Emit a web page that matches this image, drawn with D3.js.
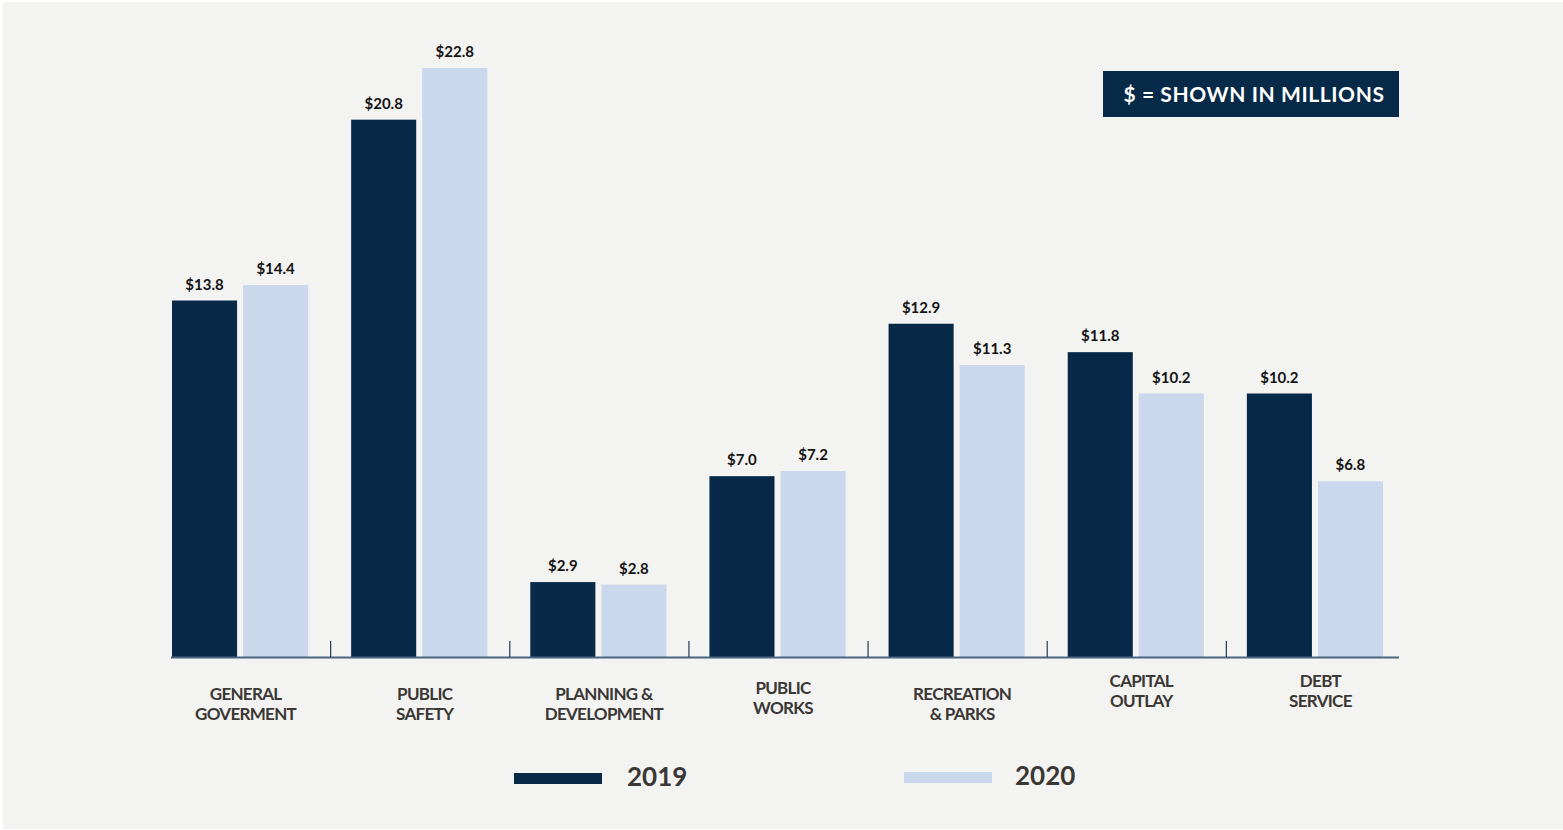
<!DOCTYPE html>
<html>
<head>
<meta charset="utf-8">
<script src="https://cdn.jsdelivr.net/npm/d3@7"></script>
<style>
  html, body { margin: 0; padding: 0; background: #ffffff; }
  svg { display: block; }
  text { font-family: "Lato", "Open Sans", sans-serif; }
</style>
</head>
<body>
<svg id="chart" width="1563" height="830"></svg>
<script>
// Expenditures by function, in millions of dollars
const categories = [
  ["GENERAL", "GOVERMENT"],
  ["PUBLIC", "SAFETY"],
  ["PLANNING &", "DEVELOPMENT"],
  ["PUBLIC", "WORKS"],
  ["RECREATION", "& PARKS"],
  ["CAPITAL", "OUTLAY"],
  ["DEBT", "SERVICE"]
];
const years = ["2019", "2020"];
const values2019 = [13.8, 20.8, 2.9, 7.0, 12.9, 11.8, 10.2];
const values2020 = [14.4, 22.8, 2.8, 7.2, 11.3, 10.2, 6.8];
const unitNote = "$ = SHOWN IN MILLIONS";

// Layout
const W = 1563, H = 830;
const plotLeft = 151, plotRight = 1405, plotBase = 657, plotTop = 68;
const colors = { "2019": "#072947", "2020": "#c9d8ed" };
const textDark = "#3b3734";
// small vertical lift for category labels (px)
const labelLift = [0, 0, 0, 6, 0, 13, 13];

const svg = d3.select("#chart");

// page background panel
svg.append("rect").attr("x", 3).attr("y", 2).attr("width", W - 3).attr("height", H - 3)
  .attr("fill", "#f3f3f1");

const rows = categories.map((c, i) => ({ i, label: c, v: { "2019": values2019[i], "2020": values2020[i] } }));

const x0 = d3.scaleBand().domain(d3.range(categories.length)).range([plotLeft, plotRight]).paddingInner(0).paddingOuter(0);
const x1 = d3.scaleBand().domain(years).range([21, x0.bandwidth() - 22]).paddingInner(6 / 71);
const y = d3.scaleLinear().domain([0, d3.max(values2020.concat(values2019))]).range([plotBase, plotTop]);

// bars
const groups = svg.append("g").selectAll("g").data(rows).join("g")
  .attr("transform", d => `translate(${x0(d.i)},0)`);

groups.selectAll("rect").data(d => years.map(k => ({ k, v: d.v[k] }))).join("rect")
  .attr("x", d => x1(d.k))
  .attr("y", d => y(d.v))
  .attr("width", x1.bandwidth())
  .attr("height", d => y(0) - y(d.v))
  .attr("fill", d => colors[d.k]);

// value labels
groups.selectAll("text.val").data(d => years.map(k => ({ k, v: d.v[k] }))).join("text")
  .attr("class", "val")
  .attr("x", d => x1(d.k) + x1.bandwidth() / 2)
  .attr("y", d => y(d.v) - 11)
  .attr("text-anchor", "middle")
  .attr("font-size", 15)
  .attr("font-weight", 700)
  .attr("fill", "#141414")
  .text(d => "$" + d.v.toFixed(1));

// baseline
svg.append("line")
  .attr("x1", x0(0) + 20).attr("x2", x0(categories.length - 1) + x0.bandwidth() - 6)
  .attr("y1", plotBase + 0.5).attr("y2", plotBase + 0.5)
  .attr("stroke", "#4b6480").attr("stroke-width", 2);

// separators between groups
svg.append("g").selectAll("line").data(d3.range(1, categories.length)).join("line")
  .attr("x1", i => x0(i) + 0.5).attr("x2", i => x0(i) + 0.5)
  .attr("y1", plotBase - 16).attr("y2", plotBase)
  .attr("stroke", "#203a57").attr("stroke-width", 1.2);

// category labels
const cl = svg.append("g").selectAll("text").data(rows).join("text")
  .attr("text-anchor", "middle")
  .attr("font-size", 17)
  .attr("font-weight", 700)
  .attr("letter-spacing", -0.7)
  .attr("fill", textDark)
  .attr("transform", d => `translate(${x0(d.i) + x0.bandwidth() / 2 + 5},${700 - labelLift[d.i]})`);
cl.selectAll("tspan").data(d => d.label).join("tspan")
  .attr("x", 0).attr("dy", (d, j) => j === 0 ? 0 : 20)
  .text(d => d);

// unit note box
const note = svg.append("g").attr("transform", "translate(1103,71)");
note.append("rect").attr("width", 296).attr("height", 46).attr("fill", "#062a47");
note.append("text").attr("x", 151).attr("y", 31).attr("text-anchor", "middle")
  .attr("font-size", 21).attr("font-weight", 700).attr("fill", "#ffffff")
  .attr("letter-spacing", 0.6)
  .text(unitNote);

// legend
const legendX = d3.scalePoint().domain(years).range([514, 904]);
const lg = svg.append("g").selectAll("g").data(years).join("g")
  .attr("transform", d => `translate(${legendX(d)},${d === "2019" ? 773 : 772})`);
lg.append("rect").attr("width", 88).attr("height", 11).attr("fill", d => colors[d]);
lg.append("text").attr("x", d => d === "2019" ? 113 : 111).attr("y", 13)
  .attr("font-size", 26).attr("font-weight", 700).attr("fill", textDark)
  .text(d => d);
</script>
</body>
</html>
